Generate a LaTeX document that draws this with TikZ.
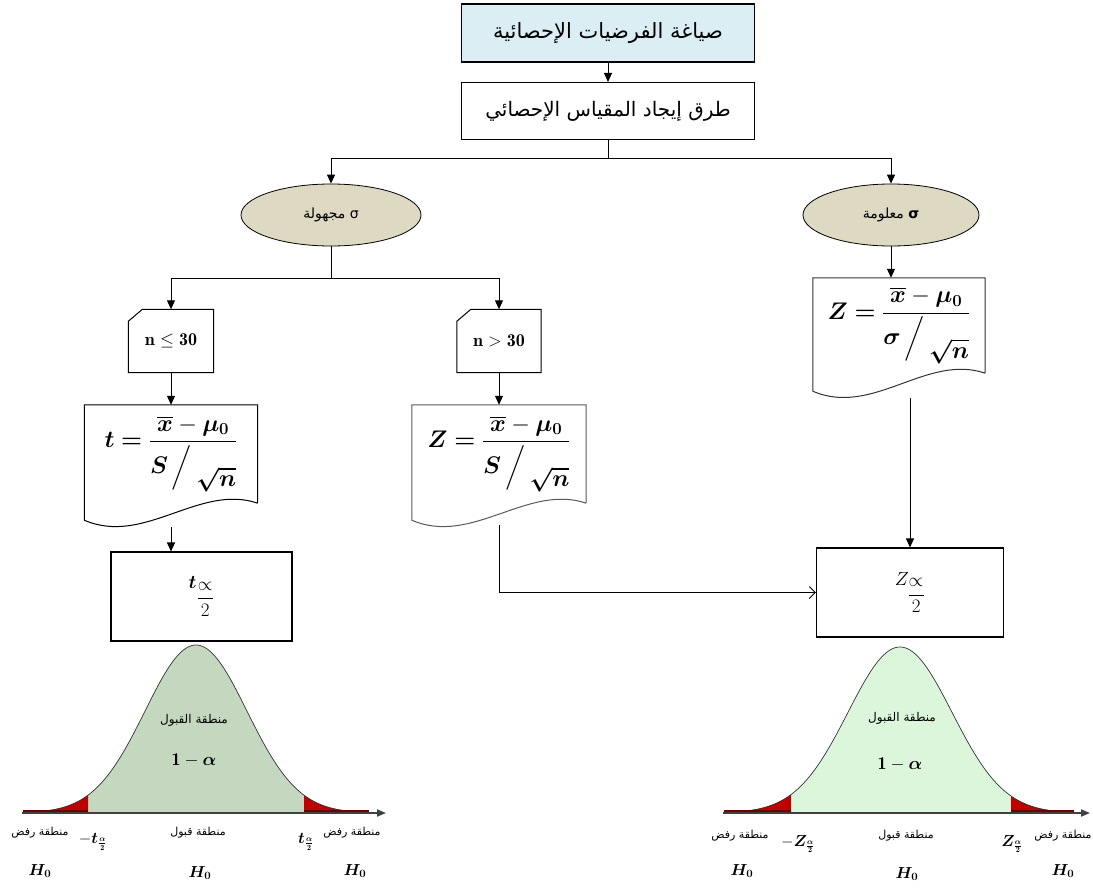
\RequirePackage{fix-cm}
\documentclass[tikz,border=0pt]{standalone}
\usepackage{fontspec}
\usepackage{amsmath}
\usepackage{bm}
\usepackage{tikz}
\usetikzlibrary{shapes,arrows,arrows.meta,calc}
\newfontfamily\arabicfont[Script=Arabic]{DejaVu Sans}
\TeXXeTstate=1

\definecolor{hypblue}{HTML}{DBEEF4}
\definecolor{sigtan}{HTML}{DDD9C3}
\definecolor{accgreen}{HTML}{C3D8BF}
\definecolor{acclight}{HTML}{DCF6DC}
\definecolor{rejred}{HTML}{C00000}
\definecolor{rejdark}{HTML}{6A0000}

\begin{document}
\begin{tikzpicture}[x=1pt,y=1pt,yscale=-1,
    procbox/.style={draw, line width=1.1pt, minimum width=293pt, minimum height=57pt, inner sep=0pt, font=\arabicfont\fontsize{20}{24}\selectfont},
    sigellipse/.style={ellipse, draw, line width=0.8pt, fill=sigtan, minimum width=178pt, minimum height=62pt, inner sep=0pt, font=\arabicfont\fontsize{14}{17}\selectfont},
    cardbox/.style={minimum width=85pt, minimum height=63pt, inner sep=0pt, font=\fontsize{18}{21}\selectfont},
    docbox/.style={minimum width=173pt, minimum height=98pt, inner sep=0pt, font=\fontsize{24}{28}\selectfont},
    critbox/.style={draw, line width=1.1pt, minimum height=89pt, inner sep=0pt, font=\fontsize{19}{23}\selectfont},
    flowline/.style={line width=1pt},
    flowarrow/.style={line width=1pt, -{Triangle[length=9pt,width=8pt]}},
    openarrow/.style={line width=1pt, -{Straight Barb[length=6pt,width=12pt]}},
    bellaxis/.style={line width=1.8pt, black!75, -{Triangle[length=9pt,width=7pt]}},
    belltext/.style={inner sep=0pt, font=\arabicfont\fontsize{11}{13}\selectfont},
    bellmath/.style={inner sep=0pt, font=\fontsize{16}{19}\selectfont}]
    \useasboundingbox (0,0) rectangle (1093,889);

    %Shape: Rectangle [hypotheses]
    \node (hyp) [procbox, fill=hypblue, minimum height=58pt, font=\arabicfont\fontsize{21}{25}\selectfont] at (608,33) {\beginR صياغة الفرضيات الإحصائية\endR};
    %Shape: Rectangle [statistic]
    \node (stat) [procbox] at (608,111) {\beginR طرق إيجاد المقياس الإحصائي\endR};

    %Shape: Ellipse [sigma unknown / known]
    \node (unk) [sigellipse, minimum width=180pt] at (331,215) {\beginR σ مجهولة\endR};
    \node (kn) [sigellipse, minimum width=176pt] at (891,215) {\beginR {\bfseries σ} معلومة\endR};

    %Shape: Card [sample size]
    \node (small) [cardbox] at (171,341) {$\mathbf{n}\leq\mathbf{30}$};
    \node (large) [cardbox, minimum width=84pt] at (499,341) {$\mathbf{n}>\mathbf{30}$};
    \draw [line width=1pt] (small.south west) -- ($(small.north west)+(0,12)$) -- ($(small.north west)+(14,0)$) -- (small.north east) -- (small.south east) -- cycle ;
    \draw [line width=1pt] (large.south west) -- ($(large.north west)+(0,12)$) -- ($(large.north west)+(14,0)$) -- (large.north east) -- (large.south east) -- cycle ;

    %Shape: Document [statistics]
    \node (tdoc) [docbox] at (171,454) {$\displaystyle\bm{t}\bm{=}\frac{\overline{\bm{x}}-\bm{\mu}_{\bm{0}}}{\bm{S}\,\Big/\,\lower1.3ex\hbox{$\bm{\sqrt{n}}$}}$};
    \node (zdoc) [docbox, minimum width=174pt] at (499,454) {$\displaystyle\bm{Z}\bm{=}\frac{\overline{\bm{x}}-\bm{\mu}_{\bm{0}}}{\bm{S}\,\Big/\,\lower1.3ex\hbox{$\bm{\sqrt{n}}$}}$};
    \node (zsig) [docbox, minimum width=172pt, minimum height=95pt] at (899,325.5) {$\displaystyle\bm{Z}\bm{=}\frac{\overline{\bm{x}}-\bm{\mu}_{\bm{0}}}{\bm{\sigma}\,\Big/\,\lower1.3ex\hbox{$\bm{\sqrt{n}}$}}$};
    \draw [line width=1pt] (tdoc.south east) -- (tdoc.north east) -- (tdoc.north west) -- ($(tdoc.south west)+(0,17)$) .. controls ($(tdoc.south west)+(60,43)$) and ($(tdoc.south west)+(115,-20)$) .. (tdoc.south east) ;
    \draw [line width=1pt, black!65] (zdoc.south east) -- (zdoc.north east) -- (zdoc.north west) -- ($(zdoc.south west)+(0,17)$) .. controls ($(zdoc.south west)+(60,43)$) and ($(zdoc.south west)+(116,-20)$) .. (zdoc.south east) ;
    \draw [line width=1pt, black!80] (zsig.south east) -- (zsig.north east) -- (zsig.north west) -- ($(zsig.south west)+(0,18)$) .. controls ($(zsig.south west)+(60,44)$) and ($(zsig.south west)+(114,-20)$) .. (zsig.south east) ;

    %Shape: Rectangle [critical values]
    \node (tal) [critbox, minimum width=181pt] at (201.5,596.5) {$\bm{t}_{\genfrac{}{}{0.8pt}{0}{\propto}{2}}$};
    \node (zal) [critbox, minimum width=187pt] at (910,592.5) {$Z_{\genfrac{}{}{0.8pt}{0}{\propto}{2}}$};

    %Straight Lines
    \coordinate (j1) at (608,158);
    \coordinate (j2) at (331,278);
    \draw [flowarrow] (hyp) -- (stat);
    \draw [flowline] (stat.south) -- (j1);
    \draw [flowarrow] (j1) -| (unk.north);
    \draw [flowarrow] (j1) -| (kn.north);
    \draw [flowline] (unk.south) -- (j2);
    \draw [flowarrow] (j2) -| (small.north);
    \draw [flowarrow] (j2) -| (large.north);
    \draw [flowarrow] (small.south) -- (tdoc.north);
    \draw [flowarrow] (large.south) -- (zdoc.north);
    \draw [flowarrow] (kn.south) -- (kn.south |- zsig.north);
    \draw [flowarrow] ($(tdoc.south)+(0,24)$) -- (tdoc.south |- tal.north);
    \draw [openarrow] ($(zdoc.south)+(0,22)$) |- (zal.west);
    \draw [flowarrow] ($(zsig.south -| zal.north)+(0,25)$) -- (zal.north);

    %Shape: Bell curve [t]
    \fill [accgreen] (88,813) -- plot [domain=88:304, samples=60] (\x,{813-168*exp(-0.5*((\x-196)/51)^2)}) -- (304,813) -- cycle ;
    \fill [rejred] (23,813) -- plot [domain=23:88, samples=30] (\x,{813-168*exp(-0.5*((\x-196)/51)^2)}) -- (88,813) -- cycle ;
    \fill [rejred] (304,813) -- plot [domain=304:369, samples=30] (\x,{813-168*exp(-0.5*((\x-196)/51)^2)}) -- (369,813) -- cycle ;
    \draw [line width=0.7pt, black!80] plot [domain=23:369, samples=120] (\x,{813-168*exp(-0.5*((\x-196)/51)^2)}) ;
    \draw [line width=2pt, rejdark] (23,811) -- (88,811) (304,811) -- (369,811) ;
    \draw [bellaxis] (22,813) -- (386,813) ;

    %Shape: Bell curve [Z]
    \fill [acclight] (791,813) -- plot [domain=791:1011, samples=60] (\x,{813-166*exp(-0.5*((\x-900)/52)^2)}) -- (1011,813) -- cycle ;
    \fill [rejred] (724,813) -- plot [domain=724:791, samples=30] (\x,{813-166*exp(-0.5*((\x-900)/52)^2)}) -- (791,813) -- cycle ;
    \fill [rejred] (1011,813) -- plot [domain=1011:1074, samples=30] (\x,{813-166*exp(-0.5*((\x-900)/52)^2)}) -- (1074,813) -- cycle ;
    \draw [line width=0.7pt, black!80] plot [domain=724:1074, samples=120] (\x,{813-166*exp(-0.5*((\x-900)/52)^2)}) ;
    \draw [line width=2pt, rejdark] (724,811) -- (791,811) (1011,811) -- (1074,811) ;
    \draw [bellaxis] (723,813) -- (1090,813) ;

    % Text Node
    \node (lacc) [belltext, font=\arabicfont\fontsize{12}{14}\selectfont] at (194,720) {\beginR منطقة القبول\endR};
    \node (lone) [bellmath, font=\fontsize{18}{21}\selectfont] at (194,760) {$\mathbf{1}-\bm{\alpha}$};
    \node (lrejl) [belltext] at (40,833) {\beginR منطقة رفض\endR};
    \node (ltcl) [bellmath] at (93,842) {$-\bm{t}_{\frac{\bm\alpha}{\mathbf{2}}}$};
    \node (lmid) [belltext] at (198,833) {\beginR منطقة قبول\endR};
    \node (ltcr) [bellmath] at (306,842) {$\bm{t}_{\frac{\bm\alpha}{\mathbf{2}}}$};
    \node (lrejr) [belltext] at (352,833) {\beginR منطقة رفض\endR};
    \node (lha) [bellmath] at (40,871) {$\bm{H_0}$};
    \node (lhb) [bellmath] at (200,873) {$\bm{H_0}$};
    \node (lhc) [bellmath] at (355,871) {$\bm{H_0}$};
    % Text Node
    \node (racc) [belltext, font=\arabicfont\fontsize{12}{14}\selectfont] at (902,718) {\beginR منطقة القبول\endR};
    \node (rone) [bellmath, font=\fontsize{18}{21}\selectfont] at (900,764) {$\mathbf{1}-\bm{\alpha}$};
    \node (rrejl) [belltext] at (740,836) {\beginR منطقة رفض\endR};
    \node (rzcl) [bellmath] at (798,844) {$-\bm{Z}_{\frac{\bm\alpha}{\mathbf{2}}}$};
    \node (rmid) [belltext] at (906,836) {\beginR منطقة قبول\endR};
    \node (rzcr) [bellmath] at (1012,844) {$\bm{Z}_{\frac{\bm\alpha}{\mathbf{2}}}$};
    \node (rrejr) [belltext] at (1063,836) {\beginR منطقة رفض\endR};
    \node (rha) [bellmath] at (742,871) {$\bm{H_0}$};
    \node (rhb) [bellmath] at (907,874) {$\bm{H_0}$};
    \node (rhc) [bellmath] at (1063,871) {$\bm{H_0}$};

\end{tikzpicture}
\end{document}
